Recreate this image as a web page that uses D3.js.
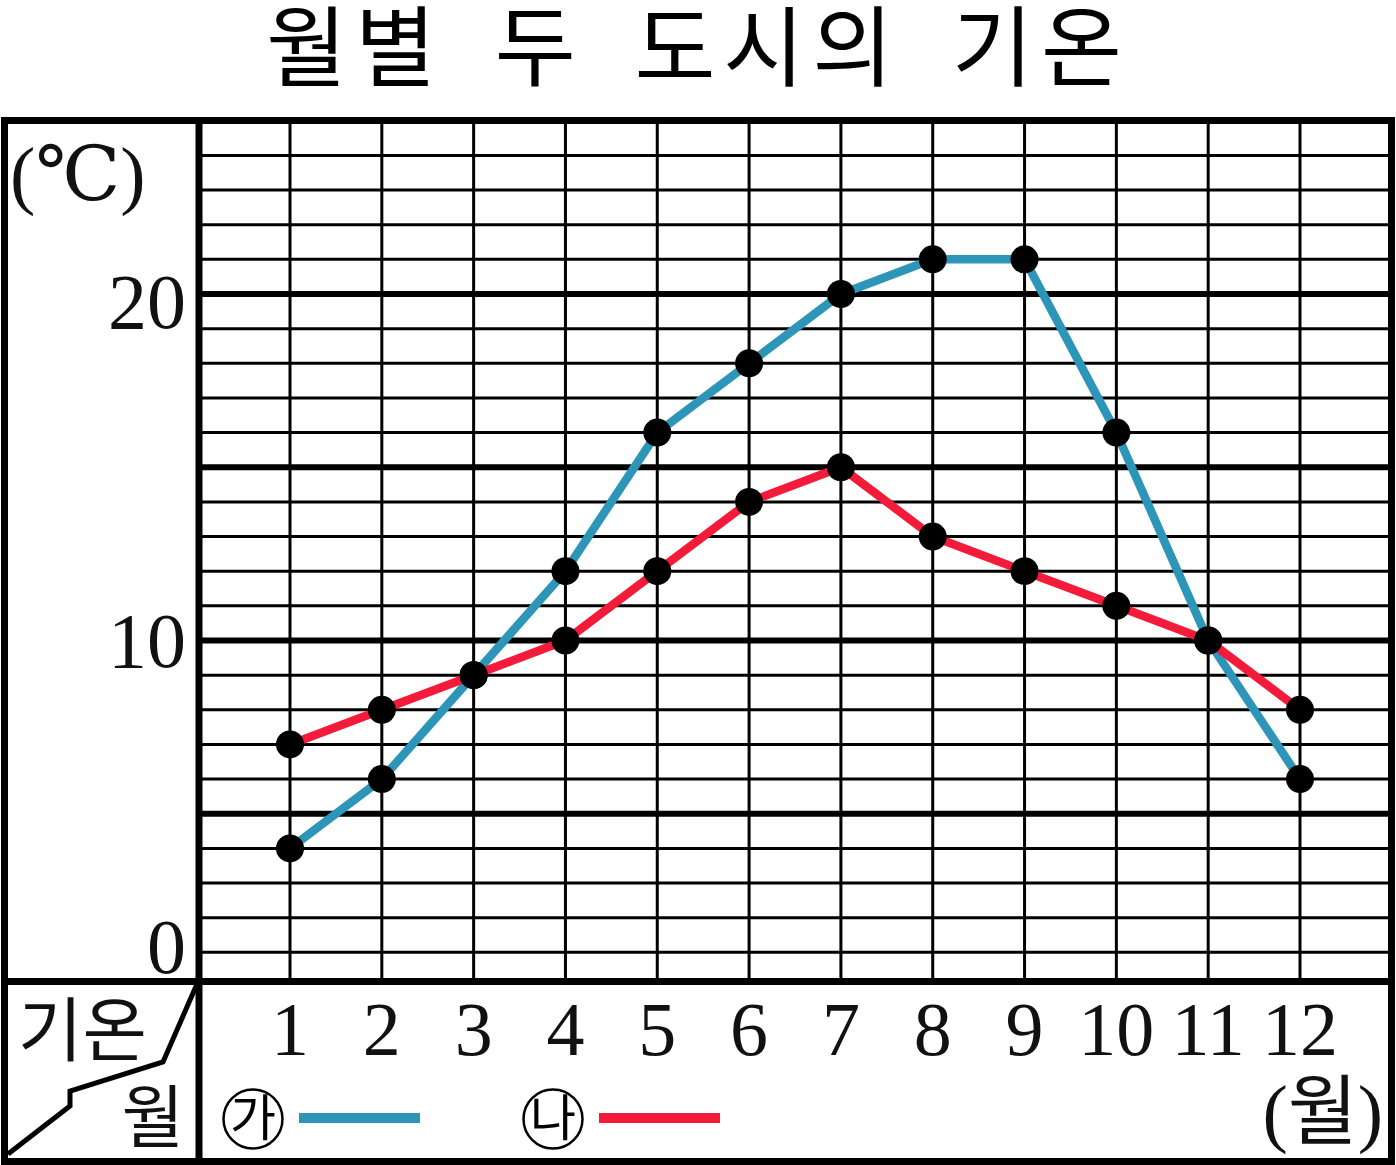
<!DOCTYPE html>
<html>
<head>
<meta charset="utf-8">
<script src="https://cdn.jsdelivr.net/npm/d3@7"></script>
<style>
  html, body { margin: 0; padding: 0; background: #fff; }
  svg { display: block; }
</style>
</head>
<body>
<script>
// ---- data ----
const months = [1, 2, 3, 4, 5, 6, 7, 8, 9, 10, 11, 12];
const tempGa = [4, 6, 9, 12, 16, 18, 20, 21, 21, 16, 10, 6];   // ㉮ (blue)
const tempNa = [7, 8, 9, 10, 12, 14, 15, 13, 12, 11, 10, 8];   // ㉯ (red)
const yTickValues = [0, 10, 20];
const titleText = "월별 두 도시의 기온";
const yUnit = "(℃)";
const xUnit = "(월)";
const cornerTop = "기온";
const cornerBottom = "월";
const seriesNames = ["가", "나"];
const seriesColors = ["#2c95b8", "#f31a3a"];

// ---- layout ----
const W = 1396, H = 1165;
const frameL = 4.5, frameR = 1391.5, frameT = 120.5, frameB = 1161.5;
const colX = 199;       // separator between label column and plot
const rowY = 981.5;     // separator between plot and month row
const yLabelOffset = { 20: 34, 10: 26 };

const svg = d3.select("body").append("svg")
  .attr("width", W).attr("height", H);

const x = d3.scaleLinear().domain([1, 12]).range([290, 1300]);
const y = d3.scaleLinear().domain([0, 25]).range([987, 120.75]);

const serif = "'Liberation Serif', 'DejaVu Serif', 'Noto Sans CJK KR', serif";
const kr = "'Noto Sans CJK KR', sans-serif";

// title
svg.append("text")
  .attr("x", W / 2).attr("y", 79)
  .attr("text-anchor", "middle")
  .attr("font-family", kr)
  .attr("font-size", 88)
  .attr("letter-spacing", 8)
  .attr("word-spacing", 23)
  .attr("fill", "#000")
  .text(titleText);

// horizontal grid lines
const hVals = d3.range(1, 25);
svg.append("g").selectAll("line").data(hVals).join("line")
  .attr("x1", colX).attr("x2", frameR)
  .attr("y1", d => y(d)).attr("y2", d => y(d))
  .attr("stroke", "#000")
  .attr("stroke-width", d => d % 5 === 0 ? 6 : 3);

// vertical grid lines
svg.append("g").selectAll("line").data(months).join("line")
  .attr("x1", d => x(d)).attr("x2", d => x(d))
  .attr("y1", frameT).attr("y2", rowY)
  .attr("stroke", "#000").attr("stroke-width", 3);

// frame
svg.append("rect")
  .attr("x", frameL).attr("y", frameT)
  .attr("width", frameR - frameL).attr("height", frameB - frameT)
  .attr("fill", "none").attr("stroke", "#000").attr("stroke-width", 7);
svg.append("line")
  .attr("x1", colX).attr("x2", colX).attr("y1", frameT).attr("y2", frameB)
  .attr("stroke", "#000").attr("stroke-width", 7);
svg.append("line")
  .attr("x1", frameL).attr("x2", frameR).attr("y1", rowY).attr("y2", rowY)
  .attr("stroke", "#000").attr("stroke-width", 7);

// corner diagonal
svg.append("polyline")
  .attr("points", [[8, 1154], [70, 1106], [70, 1091], [163, 1062], [197, 984]].map(p => p.join(",")).join(" "))
  .attr("fill", "none").attr("stroke", "#000").attr("stroke-width", 5)
  .attr("stroke-linejoin", "miter");
svg.append("text")
  .attr("x", 18).attr("y", 1056)
  .attr("font-family", kr).attr("font-size", 70).attr("fill", "#111")
  .text(cornerTop);
svg.append("text")
  .attr("x", 184).attr("y", 1142)
  .attr("text-anchor", "end")
  .attr("font-family", kr).attr("font-size", 68).attr("fill", "#111")
  .text(cornerBottom);

// y unit
svg.append("text")
  .attr("x", 10).attr("y", 200)
  .attr("font-family", serif).attr("font-size", 76).attr("fill", "#111")
  .text(yUnit);

// y tick labels
svg.append("g").selectAll("text").data(yTickValues).join("text")
  .attr("x", 186)
  .attr("y", d => d === 0 ? rowY - 9 : y(d) + yLabelOffset[d])
  .attr("text-anchor", "end")
  .attr("font-family", serif).attr("font-size", 78).attr("fill", "#111")
  .text(d => d);

// x tick labels
svg.append("g").selectAll("text").data(months).join("text")
  .attr("x", d => x(d)).attr("y", 1055)
  .attr("text-anchor", "middle")
  .attr("font-family", serif).attr("font-size", 76).attr("fill", "#111")
  .text(d => d);

// x unit
svg.append("text")
  .attr("x", 1383).attr("y", 1138)
  .attr("text-anchor", "end")
  .attr("font-family", serif).attr("font-size", 76).attr("fill", "#111")
  .text(xUnit);

// legend
const legendX = [253, 553];
seriesNames.forEach((name, i) => {
  const g = svg.append("g");
  g.append("circle").attr("cx", legendX[i]).attr("cy", 1119).attr("r", 29.5)
    .attr("fill", "none").attr("stroke", "#000").attr("stroke-width", 2.5);
  g.append("text").attr("x", legendX[i]).attr("y", 1136)
    .attr("text-anchor", "middle")
    .attr("font-family", kr).attr("font-size", 50).attr("fill", "#000")
    .text(name);
  g.append("line")
    .attr("x1", legendX[i] + 46).attr("x2", legendX[i] + 167)
    .attr("y1", 1118).attr("y2", 1118)
    .attr("stroke", seriesColors[i]).attr("stroke-width", 10);
});

// lines
const line = d3.line().x((d, i) => x(months[i])).y(d => y(d));
[tempGa, tempNa].forEach((series, i) => {
  svg.append("path").datum(series)
    .attr("d", line)
    .attr("fill", "none")
    .attr("stroke", seriesColors[i])
    .attr("stroke-width", 8.5)
    .attr("stroke-linejoin", "round");
});
// dots
[tempGa, tempNa].forEach(series => {
  svg.append("g").selectAll("circle").data(series).join("circle")
    .attr("cx", (d, i) => x(months[i]))
    .attr("cy", d => y(d))
    .attr("r", 14)
    .attr("fill", "#000");
});
</script>
</body>
</html>
